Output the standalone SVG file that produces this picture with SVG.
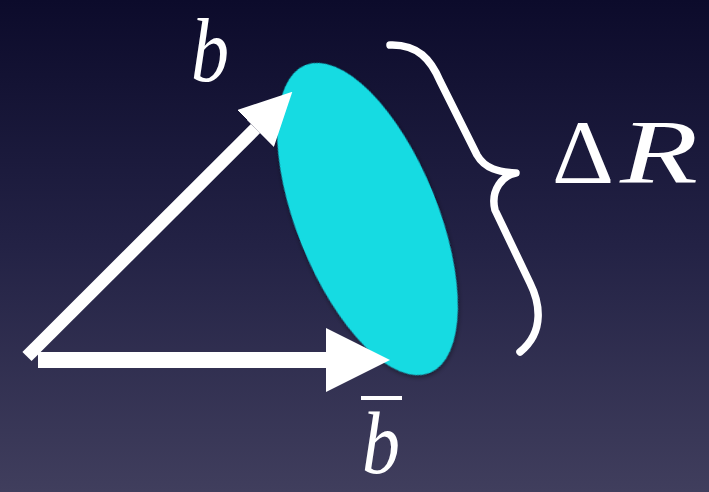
<svg xmlns="http://www.w3.org/2000/svg" width="709" height="492" viewBox="0 0 709 492">
  <defs>
    <linearGradient id="bg" x1="0" y1="0" x2="0" y2="1">
      <stop offset="0" stop-color="#0c0b2b"/>
      <stop offset="0.5" stop-color="#232245"/>
      <stop offset="1" stop-color="#403e5d"/>
    </linearGradient>
    <filter id="shadow" x="-20%" y="-20%" width="140%" height="140%">
      <feDropShadow dx="0" dy="2" stdDeviation="2.5" flood-color="#000" flood-opacity="0.45"/>
    </filter>
    <marker id="head" viewBox="0 0 10 10" refX="0" refY="5" markerWidth="4" markerHeight="4" orient="auto">
      <path d="M0,0 L10,5 L0,10 z" fill="#ffffff"/>
    </marker>
  </defs>
  <style>
    .arrow { stroke: #ffffff; fill: none; stroke-linecap: butt; marker-end: url(#head); }
    .label { fill: #ffffff; font-family: "Liberation Serif", "Times New Roman", serif; }
    .brace { stroke: #ffffff; fill: none; stroke-width: 7.5; stroke-linecap: round; stroke-linejoin: round; }
  </style>
  <rect x="0" y="0" width="709" height="492" fill="url(#bg)"/>

  <g id="region">
    <ellipse cx="367.5" cy="219" rx="70.6" ry="166" transform="rotate(-22 367.5 219)" fill="#12dbe2" filter="url(#shadow)"/>
  </g>

  <g id="connectors">
    <path class="arrow" d="M27,356.5 L255.5,128.5" stroke-width="13"/>
    <path class="arrow" d="M38,360 L326,360" stroke-width="16"/>
  </g>

  <g id="brace">
    <path class="brace" d="M390,45 C418,44 431,60 440,81 L477,155 C485,169 499,172 516,173 C503,175 490,190 495,210 L530,283 C539,301 546,331 520,352"/>
  </g>

  <g id="label-b">
    <text class="label" font-style="italic" x="191" y="81" font-size="90" textLength="38" lengthAdjust="spacingAndGlyphs">b</text>
  </g>
  <g id="label-deltaR">
    <text class="label" x="552" y="183" font-size="90" textLength="62" lengthAdjust="spacingAndGlyphs">Δ</text>
    <text class="label" font-style="italic" x="620" y="183" font-size="90" textLength="78" lengthAdjust="spacingAndGlyphs">R</text>
  </g>
  <g id="label-bbar">
    <rect x="361" y="396" width="41" height="4" fill="#ffffff"/>
    <text class="label" font-style="italic" x="362" y="473" font-size="88" textLength="38" lengthAdjust="spacingAndGlyphs">b</text>
  </g>
</svg>
